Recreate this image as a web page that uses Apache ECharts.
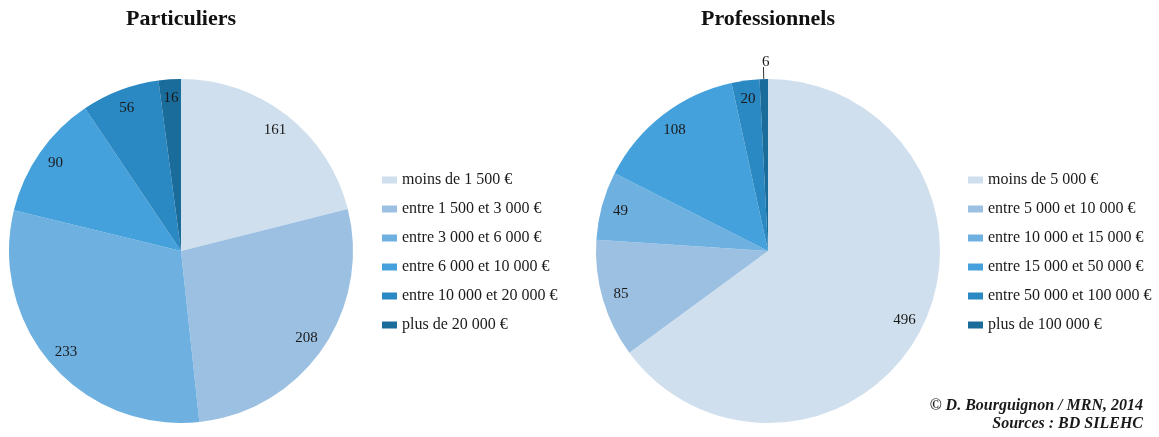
<!DOCTYPE html>
<html><head><meta charset="utf-8">
<script src="https://cdn.jsdelivr.net/npm/echarts@6/dist/echarts.min.js"></script>
<style>html,body{margin:0;padding:0;background:#fff}#c{width:1159px;height:437px}</style>
</head><body><div id="c"></div>
<script>
const partCategories = ["moins de 1 500 €","entre 1 500 et 3 000 €","entre 3 000 et 6 000 €","entre 6 000 et 10 000 €","entre 10 000 et 20 000 €","plus de 20 000 €"];
const partValues = [161, 208, 233, 90, 56, 16];
const proCategories = ["moins de 5 000 €","entre 5 000 et 10 000 €","entre 10 000 et 15 000 €","entre 15 000 et 50 000 €","entre 50 000 et 100 000 €","plus de 100 000 €"];
const proValues = [496, 85, 49, 108, 20, 6];
const titles = ["Particuliers", "Professionnels"];
const credits = ["© D. Bourguignon / MRN, 2014", "Sources : BD SILEHC"];

const colors = ["#cfdfed","#9bc0e2","#6eb0e0","#45a1db","#2a88c2","#1a6c9b"];
const serif = "'Liberation Serif','DejaVu Serif',serif";

function mk(cats, vals){ return cats.map((n,i)=>({name:n, value:vals[i]})); }

const chart = echarts.init(document.getElementById('c'));
const base = {type:'pie', startAngle:90, clockwise:true, silent:true, animation:false, color:colors};
const labelSeries = (cats, vals, center) => Object.assign({}, base, {
  center: center, radius:[128,172],
  itemStyle:{color:'rgba(0,0,0,0)'},
  label:{show:true, position:'inside', fontFamily:serif, fontSize:15, color:'#1a1a1a', formatter:'{c}'},
  labelLine:{show:false},
  data: mk(cats, vals).map(d => d.value <= 10 ? Object.assign(d, {
    label:{position:'outside', fontFamily:serif, fontSize:15, color:'#1a1a1a', distanceToLabelLine:0, offset:[6,-5]},
    labelLine:{show:true, length:12, length2:0, lineStyle:{color:'#333', width:1}}
  }) : d),
  legendHoverLink:false
});

const legendText = {fontFamily:serif, fontSize:16, lineHeight:16, color:'#1a1a1a'};

chart.setOption({
  animation:false,
  title:[
    {text:titles[0], left:176, top:3, textAlign:'center', textStyle:{fontFamily:serif, fontWeight:'bold', fontSize:22, color:'#111'}},
    {text:titles[1], left:763, top:3, textAlign:'center', textStyle:{fontFamily:serif, fontWeight:'bold', fontSize:22, color:'#111'}},
  ],
  legend:[
    {orient:'vertical', left:377, top:167, data:partCategories, icon:'rect', itemWidth:15, itemHeight:7, itemGap:13,
     textStyle:legendText, selectedMode:false},
    {orient:'vertical', left:963, top:167, data:proCategories, icon:'rect', itemWidth:15, itemHeight:7, itemGap:13,
     textStyle:legendText, selectedMode:false}
  ],
  graphic:[
    {type:'text', right:16, top:398, style:{text:credits[0], font:"italic bold 16px 'Liberation Serif'", fill:'#1a1a1a'}},
    {type:'text', right:16, top:416, style:{text:credits[1], font:"italic bold 16px 'Liberation Serif'", fill:'#1a1a1a'}}
  ],
  series:[
    Object.assign({}, base, {center:[181,251], radius:[0,172], label:{show:false}, labelLine:{show:false}, data:mk(partCategories, partValues)}),
    Object.assign({}, base, {center:[768,251], radius:[0,172], label:{show:false}, labelLine:{show:false}, data:mk(proCategories, proValues)}),
    labelSeries(partCategories, partValues, [181,251]),
    labelSeries(proCategories, proValues, [768,251])
  ]
});
</script></body></html>
